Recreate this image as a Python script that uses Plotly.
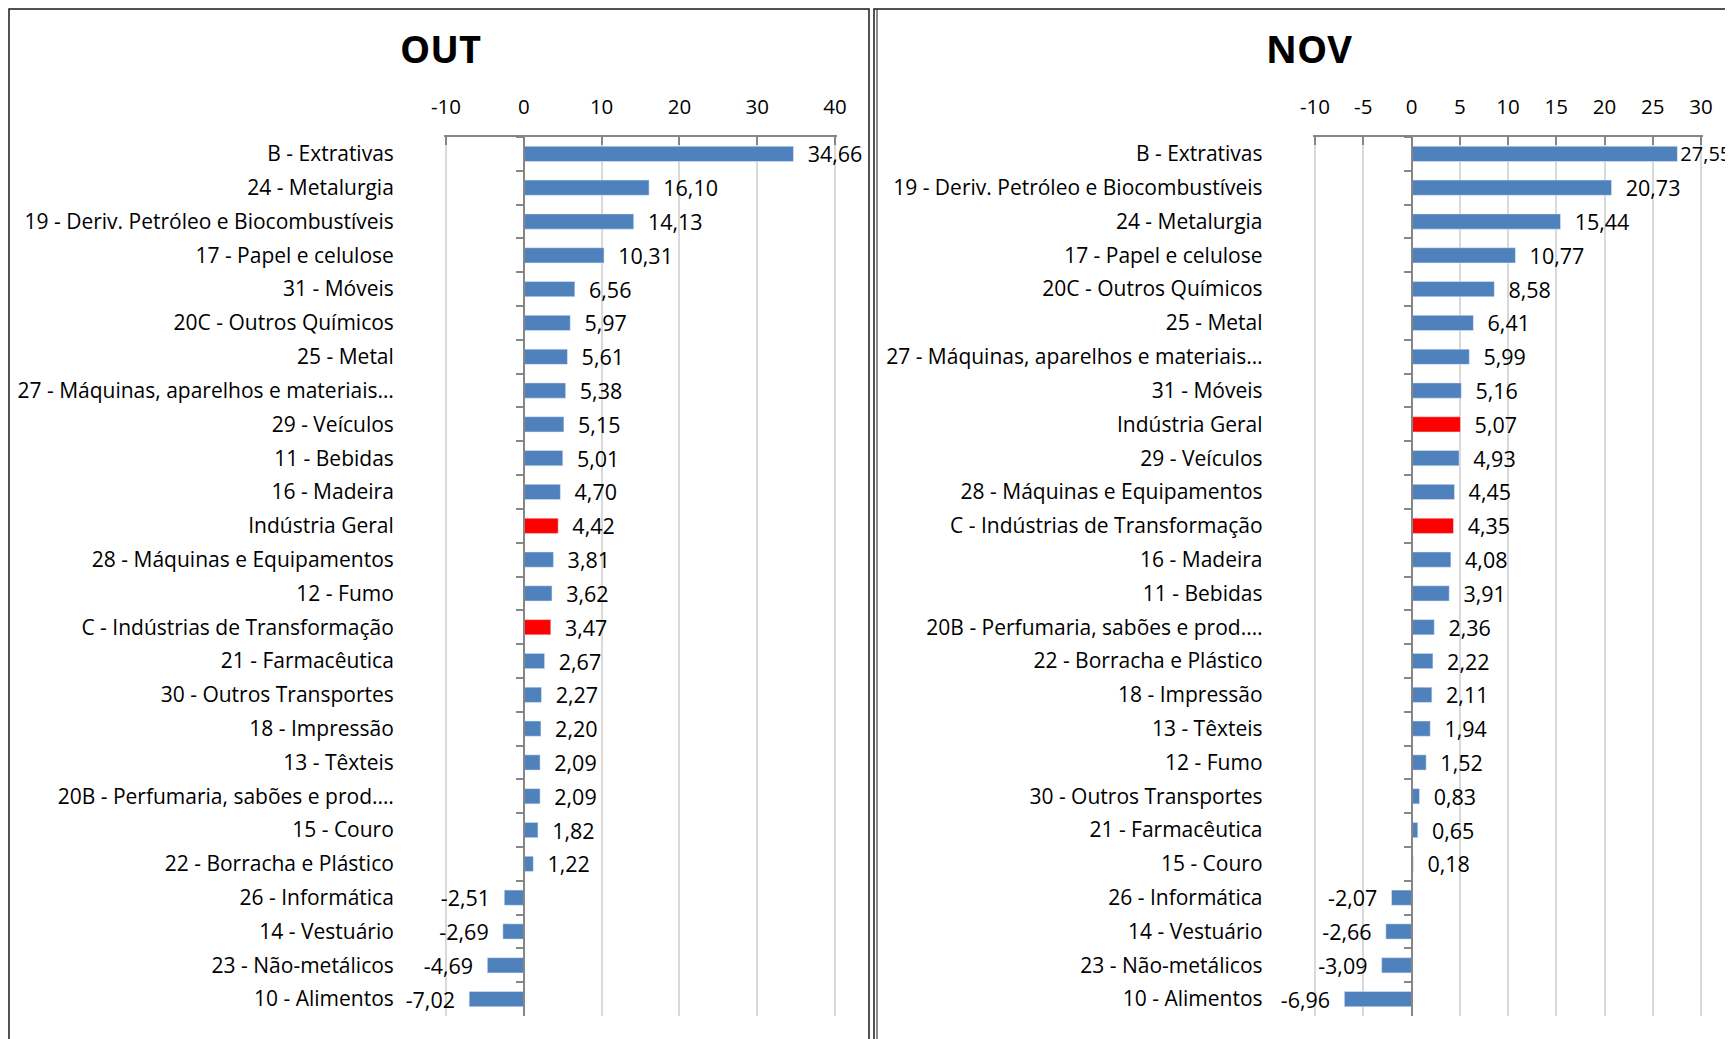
from plotly import graph_objects as go

# OUT panel
out_labels = [
    "B - Extrativas", "24 - Metalurgia", "19 - Deriv. Petróleo e Biocombustíveis",
    "17 - Papel e celulose", "31 - Móveis", "20C - Outros Químicos", "25 - Metal",
    "27 - Máquinas, aparelhos e materiais…", "29 - Veículos", "11 - Bebidas",
    "16 - Madeira", "Indústria Geral", "28 - Máquinas e Equipamentos", "12 - Fumo",
    "C - Indústrias de Transformação", "21 - Farmacêutica", "30 - Outros Transportes",
    "18 - Impressão", "13 - Têxteis", "20B - Perfumaria, sabões e prod.…",
    "15 - Couro", "22 - Borracha e Plástico", "26 - Informática", "14 - Vestuário",
    "23 - Não-metálicos", "10 - Alimentos",
]
out_values = [
    34.66, 16.10, 14.13, 10.31, 6.56, 5.97, 5.61, 5.38, 5.15, 5.01, 4.70, 4.42, 3.81,
    3.62, 3.47, 2.67, 2.27, 2.20, 2.09, 2.09, 1.82, 1.22, -2.51, -2.69, -4.69, -7.02,
]
out_ticks = [-10, 0, 10, 20, 30, 40]

# NOV panel
nov_labels = [
    "B - Extrativas", "19 - Deriv. Petróleo e Biocombustíveis", "24 - Metalurgia",
    "17 - Papel e celulose", "20C - Outros Químicos", "25 - Metal",
    "27 - Máquinas, aparelhos e materiais…", "31 - Móveis", "Indústria Geral",
    "29 - Veículos", "28 - Máquinas e Equipamentos", "C - Indústrias de Transformação",
    "16 - Madeira", "11 - Bebidas", "20B - Perfumaria, sabões e prod.…",
    "22 - Borracha e Plástico", "18 - Impressão", "13 - Têxteis", "12 - Fumo",
    "30 - Outros Transportes", "21 - Farmacêutica", "15 - Couro", "26 - Informática",
    "14 - Vestuário", "23 - Não-metálicos", "10 - Alimentos",
]
nov_values = [
    27.55, 20.73, 15.44, 10.77, 8.58, 6.41, 5.99, 5.16, 5.07, 4.93, 4.45, 4.35, 4.08,
    3.91, 2.36, 2.22, 2.11, 1.94, 1.52, 0.83, 0.65, 0.18, -2.07, -2.66, -3.09, -6.96,
]
nov_ticks = [-10, -5, 0, 5, 10, 15, 20, 25, 30]

highlight = ["Indústria Geral", "C - Indústrias de Transformação"]

# the page puts the plot 8px in from the top-left corner
OFF = 8
W, H = 1733 - OFF, 1039 - OFF
FONT = "Open Sans, sans-serif"
BLUE = "#4F81BD"
RED = "#FF0000"
GRID = "#D9D9D9"
AXIS = "#868686"
BORDER = "#1a1a1a"
PAD = 0.2  # keeps the end gridlines from being dropped


def px(x):
    return (x - OFF) / W


def py(y):
    return 1 - (y - OFF) / H


def near_edge(v, vmax):
    return v > 0.9 * vmax


def fmt(v, vmax):
    s = f"{v:.2f}".replace(".", ",")
    if v < 0:
        return s + "  "
    return s if near_edge(v, vmax) else "  " + s


panels = [
    dict(title="OUT", labels=out_labels, values=out_values, ticks=out_ticks,
         pix=[446, 835], standoff=125, ax="", tx=px(440)),
    dict(title="NOV", labels=nov_labels, values=nov_values, ticks=nov_ticks,
         pix=[1315, 1701], standoff=144, ax="2", tx=px(1309)),
]
ydom = [py(1016), py(137)]

fig = go.Figure()
layout = {}
for p in panels:
    ax = p["ax"]
    lo, hi = p["ticks"][0], p["ticks"][-1]
    rng = [lo - PAD, hi + PAD]
    k = (p["pix"][1] - p["pix"][0]) / (hi - lo)
    dom = [px(p["pix"][0] - PAD * k), px(p["pix"][1] + PAD * k)]
    fig.add_trace(
        go.Bar(
            x=p["values"],
            y=p["labels"],
            orientation="h",
            marker=dict(color=[RED if l in highlight else BLUE for l in p["labels"]]),
            text=[fmt(v, hi) for v in p["values"]],
            textposition="outside",
            textfont=dict(
                family=FONT, color="black",
                size=[20 if near_edge(v, hi) else 21.5 for v in p["values"]],
            ),
            constraintext="none",
            cliponaxis=False,
            xaxis="x" + ax,
            yaxis="y" + ax,
            showlegend=False,
            hoverinfo="skip",
        )
    )
    zero_pos = dom[0] + (0 - rng[0]) / (rng[1] - rng[0]) * (dom[1] - dom[0])
    layout["xaxis" + ax] = dict(
        domain=dom, range=rng, tickvals=p["ticks"],
        ticktext=[str(t) for t in p["ticks"]], side="top",
        anchor="y" + ax, showgrid=True, gridcolor=GRID, gridwidth=1.5,
        showline=True, linecolor=AXIS, linewidth=1.5, ticks="inside", ticklen=8,
        tickcolor=AXIS, tickwidth=1.5, zeroline=False, automargin=False,
        ticklabelstandoff=13,
        tickfont=dict(family=FONT, size=20.5, color="black"),
    )
    layout["yaxis" + ax] = dict(
        domain=ydom, type="category", categoryarray=p["labels"],
        categoryorder="array", autorange="reversed", anchor="free",
        position=zero_pos, showline=True, linecolor=AXIS, linewidth=1.5,
        ticks="outside", tickson="boundaries", ticklen=7, tickcolor=AXIS,
        tickwidth=1.5, showgrid=False, zeroline=False, automargin=False,
        ticklabelstandoff=p["standoff"],
        tickfont=dict(family=FONT, size=21, color="black"),
    )

fig.update_layout(
    width=W,
    height=H,
    margin=dict(l=0, r=0, t=0, b=0),
    plot_bgcolor="white",
    paper_bgcolor="white",
    bargap=0.55,
    font=dict(family=FONT, color="black"),
    annotations=[
        dict(text="<b>%s</b>" % p["title"], x=p["tx"], y=py(48), xref="paper",
             yref="paper", showarrow=False, xanchor="center", yanchor="middle",
             font=dict(family=FONT, size=38, color="black"))
        for p in panels
    ],
    shapes=[
        dict(type="rect", xref="paper", yref="paper", x0=px(9), x1=px(869),
             y0=-0.05, y1=py(9), line=dict(color=BORDER, width=1.5)),
        dict(type="rect", xref="paper", yref="paper", x0=px(874), x1=1.05,
             y0=-0.05, y1=py(9), line=dict(color=BORDER, width=1.5)),
        dict(type="line", xref="paper", yref="paper", x0=px(877), x1=px(877),
             y0=-0.05, y1=py(9), line=dict(color=BORDER, width=1)),
    ],
    **layout,
)

fig.write_html("out.html")
